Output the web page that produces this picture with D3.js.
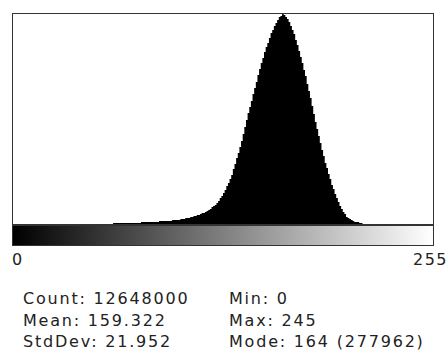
<!DOCTYPE html>
<html><head><meta charset="utf-8">
<script src="https://cdn.jsdelivr.net/npm/d3@7"></script>
<style>
html,body{margin:0;padding:0;background:#fff;}
svg{display:block;}
text{font-family:"DejaVu Sans",sans-serif;fill:#222;}
</style></head>
<body>
<script>
// Histogram counts for grey levels 0..255
const counts = [
  40,12,14,16,18,21,24,27,30,34,38,43,48,54,60,67,
  74,82,91,100,110,121,133,146,160,175,191,208,226,245,265,286,
  308,331,355,380,406,433,461,490,520,551,583,616,650,685,721,758,
  796,835,875,916,958,1001,1045,1090,1136,1183,1231,1280,1300,
  1390,1450,1510,1570,1640,1710,1780,1850,1930,2010,2090,2170,2260,2350,2440,2530,2620,2720,2820,2920,3020,3120,3230,3340,
  3460,3580,3710,3840,3980,4120,4270,4420,4570,4730,
  4960,5200,5440,5690,5940,6190,6430,6670,
  7080,7520,7990,8480,8990,9520,10050,10600,
  11260,11950,12790,13620,14590,15570,16680,18070,19460,20850,
  22510,24180,26410,28910,31690,34470,38080,41690,45860,50310,
  55040,60320,65600,72830,80610,87560,94510,102850,111180,120080,
  129250,138150,147320,155660,164000,172340,180680,189010,197350,205690,
  214030,220980,227930,234320,240430,246830,252950,257950,262670,267120,
  271010,274070,276570,277962,276850,274630,271570,267680,263230,257950,
  251560,244610,237660,229600,221540,213480,205140,195960,186230,176510,
  166780,157050,146760,136200,126470,116740,107570,98680,90340,82000,
  74220,66710,59760,52810,46420,40580,35300,30020,25020,20570,
  16680,13340,10560,8340,6790,5550,4610,3950,3300,2700,
  2150,1650,1250,900,620,
  420,330,260,210,170,140,120,100,85,72,61,52,44,37,31,26,22,18,15,12,10,8,7,6,5,4,3,2,2,1,
  0,0,0,0,0,0,0,0,0,0
];
const axisLabels = ["0", "255"];
const statsLeft = ["Count: 12648000", "Mean: 159.322", "StdDev: 21.952"];
const statsRight = ["Min: 0", "Max: 245", "Mode: 164 (277962)"];

const W = 448, H = 358;
const svg = d3.select("body").append("svg").attr("width", W).attr("height", H);

const x = d3.scaleLinear().domain([0, 256]).range([13, 433]);
const y = d3.scaleLinear().domain([0, d3.max(counts)]).range([224, 14]);

const pts = counts.map((v, i) => ({i, v}));
pts.push({i: 256, v: counts[255]});

// histogram area
svg.append("path")
  .datum(pts)
  .attr("fill", "#000")
  .attr("d", d3.area().x(d => x(d.i)).y0(y(0)).y1(d => y(0) - Math.floor(y(0) - y(d.v))).curve(d3.curveStepAfter));

// frame
svg.append("rect").attr("x", x(0) - 0.5).attr("y", y.range()[1] - 0.5)
  .attr("width", x(256) - x(0) + 1).attr("height", y(0) - y.range()[1] + 1)
  .attr("fill", "none").attr("stroke", "#333").attr("stroke-width", 1);

// LUT bar
const defs = svg.append("defs");
const grad = defs.append("linearGradient").attr("id", "lut")
  .attr("gradientUnits", "userSpaceOnUse").attr("x1", x(0)).attr("x2", x(256)).attr("y1", 0).attr("y2", 0);
grad.append("stop").attr("offset", 0).attr("stop-color", "#000");
grad.append("stop").attr("offset", 1).attr("stop-color", "#fff");
svg.append("rect").attr("x", x(0) - 0.5).attr("y", 225.5)
  .attr("width", x(256) - x(0) + 1).attr("height", 20)
  .attr("fill", "url(#lut)").attr("stroke", "#333").attr("stroke-width", 1);

// axis labels
svg.append("text").attr("x", 12).attr("y", 265).attr("font-size", 16).style("letter-spacing", "1.5px").text(axisLabels[0]);
svg.append("text").attr("x", 448).attr("y", 265).attr("font-size", 16).attr("text-anchor", "end").style("letter-spacing", "1.5px").text(axisLabels[1]);

// stats
const baselines = [304, 325.5, 347];
statsLeft.forEach((t, k) => svg.append("text").attr("x", 23).attr("y", baselines[k]).attr("font-size", 16).style("letter-spacing", "1.8px").text(t));
statsRight.forEach((t, k) => svg.append("text").attr("x", 229).attr("y", baselines[k]).attr("font-size", 16).style("letter-spacing", "1.8px").text(t));
</script>
</body></html>
